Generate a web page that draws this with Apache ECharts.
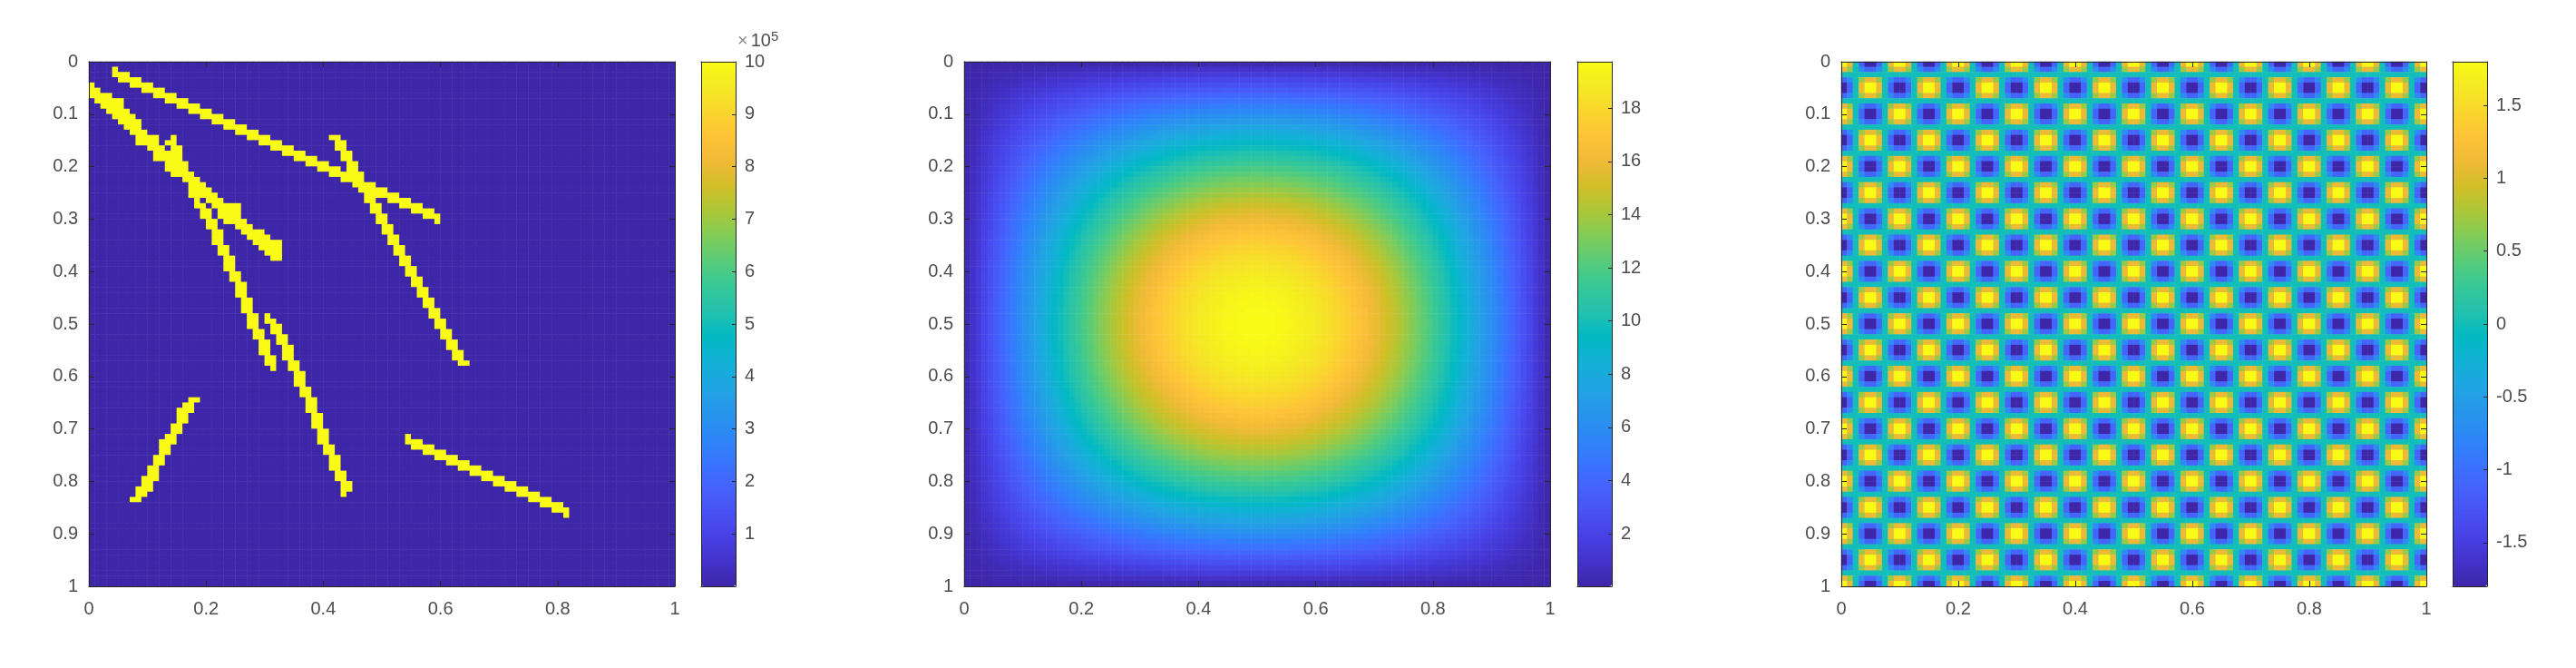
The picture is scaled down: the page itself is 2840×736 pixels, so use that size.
<!DOCTYPE html>
<html>
<head>
<meta charset="utf-8">
<title>three fields</title>
<script src="https://cdn.jsdelivr.net/npm/echarts@6/dist/echarts.min.js"></script>
<style>
    html, body { margin: 0; padding: 0; background: #fff; }
    #chart { width: 2840px; height: 736px; }
</style>
</head>
<body>
<div id="chart"></div>
<script>
// tick labels
const xTicks = { interval: 0.2 };
const yTicks = { interval: 0.1 };
const colorbarTicks1 = [1, 2, 3, 4, 5, 6, 7, 8, 9, 10];
const colorbarTicks2 = [2, 4, 6, 8, 10, 12, 14, 16, 18];
const colorbarTicks3 = [-1.5, -1, -0.5, 0, 0.5, 1, 1.5];

// colour ranges
const range1 = [0, 10];
const range2 = [0.02, 19.75];
const range3 = [-1.8, 1.8];

// parula
const parula = ['#3E26A8', '#4332CB', '#4741E5', '#4852F4', '#4563FD', '#3875FE', '#2D87F7', '#2796EB', '#20A5E3', '#12B1D6', '#02BAC3',
    '#24C1AE', '#37C897', '#57CC7A', '#80CC59', '#ABC739', '#D1BF27', '#F0BA36', '#FEC338', '#F9D62D', '#F5E924', '#F9FB15'];

// left panel: 100x100 cells, background is low, the strokes are high. each entry is [row, firstCol, lastCol]
const lowValue = 0;
const highValue = 10;
const strokeTop = [
    [1,4,4],[2,4,6],[3,5,8],[4,7,10],[5,9,12],[6,11,14],[7,13,16],[8,15,18],[9,17,20],[10,19,22],
    [11,21,24],[12,23,26],[13,25,28],[14,27,30],[15,29,32],[16,31,34],[17,33,36],[18,35,38],[19,37,40],[20,39,42],
    [21,41,44],[22,43,46],[23,45,48],[24,47,50],[25,49,52],[26,51,54],[27,53,56],[28,55,58],[29,57,59],[30,59,59]
];
const strokeLeft = [
    [4,0,0],[5,0,1],[6,0,3],[7,1,5],[8,2,5],[9,3,6],[10,4,7],[11,5,8],[12,6,8],[13,7,9],
    [14,8,11],[15,8,11],[16,10,12],[17,11,13],[18,11,13],[19,13,14],[20,13,15],[21,14,17],[22,16,18],[23,17,19],
    [24,17,20],[25,17,21],[26,20,22],[27,21,25],[28,22,25],[29,22,25],[30,23,26],[31,25,27],[32,26,29],[33,27,30],
    [34,28,32],[35,29,32],[36,30,32],[37,31,32]
];
const strokeSteepA = [
    [14,14,14],[15,13,14],[16,14,15],[17,14,15],[18,14,15],[19,14,16],[20,15,16],[21,16,17],[22,16,17],[23,17,18],
    [24,17,18],[25,17,18],[26,18,18],[27,18,19],[28,19,20],[29,19,20],[30,20,21],[31,20,21],[32,21,22],[33,21,22],
    [34,21,22],[35,22,23],[36,22,23],[37,23,24],[38,23,24],[39,23,24],[40,24,25],[41,24,25],[42,25,26],[43,25,26],
    [44,25,26],[45,26,27],[46,26,27],[47,26,27],[48,27,28],[49,27,28],[50,27,28],[51,28,29],[52,28,29],[53,29,30],
    [54,29,30],[55,29,30],[56,30,31],[57,30,31],[58,31,31]
];
const strokeSteepB = [
    [48,30,30],[49,30,31],[50,31,32],[51,31,32],[52,32,33],[53,32,33],[54,33,34],[55,33,34],[56,33,34],[57,34,35],
    [58,34,35],[59,35,36],[60,35,36],[61,35,36],[62,36,37],[63,36,37],[64,37,38],[65,37,38],[66,37,38],[67,38,39],
    [68,38,39],[69,38,39],[70,39,40],[71,39,40],[72,39,40],[73,40,41],[74,40,41],[75,41,42],[76,41,42],[77,41,42],
    [78,42,43],[79,42,43],[80,43,44],[81,43,44],[82,43,43]
];
const strokeCross = [
    [14,41,42],[15,42,43],[16,42,43],[17,43,44],[18,43,44],[19,44,45],[20,44,45],[21,44,46],[22,45,46],[23,46,48],
    [24,46,48],[25,47,48],[26,47,48],[27,48,49],[28,48,49],[29,49,50],[30,49,50],[31,50,51],[32,50,51],[33,51,52],
    [34,51,52],[35,52,53],[36,52,53],[37,53,54],[38,53,54],[39,54,55],[40,54,55],[41,55,56],[42,55,56],[43,56,57],
    [44,56,57],[45,57,58],[46,57,58],[47,58,59],[48,58,59],[49,59,60],[50,59,60],[51,60,61],[52,60,61],[53,61,62],
    [54,61,62],[55,62,63],[56,62,63],[57,63,64]
];
const strokeRising = [
    [64,17,18],[65,16,17],[66,15,17],[67,15,16],[68,15,16],[69,14,15],[70,14,15],[71,13,14],[72,12,14],[73,12,13],
    [74,12,13],[75,11,12],[76,11,12],[77,10,11],[78,10,11],[79,9,11],[80,9,10],[81,8,10],[82,8,9],[83,7,8]
];
const strokeBottom = [
    [71,54,54],[72,54,56],[73,55,58],[74,57,60],[75,59,62],[76,61,64],[77,63,66],[78,65,68],[79,67,70],[80,69,72],
    [81,71,74],[82,73,76],[83,75,78],[84,77,80],[85,79,81],[86,81,81]
];

// middle panel: 100x100 cells. the picture is symmetric about the centre and the diagonal,
// so only the upper triangle of the top-left quarter is kept (row r holds columns r..49)
const bumpTriangle = [
    [0,0,0,0,0,.1,.1,.1,.1,.1,.1,.1,.1,.1,.1,.1,.2,.2,.2,.2,.2,.2,.2,.2,.2,.2,.2,.2,.2,.2,.3,.3,.3,.3,.3,.3,.3,.3,.3,.3,.3,.3,.3,.3,.3,.3,.3,.3,.3,.3],
    [0,.1,.1,.1,.2,.2,.2,.2,.3,.3,.3,.4,.4,.4,.4,.5,.5,.5,.5,.6,.6,.6,.6,.6,.7,.7,.7,.7,.7,.8,.8,.8,.8,.8,.8,.8,.9,.9,.9,.9,.9,.9,.9,.9,.9,.9,.9,.9,.9],
    [.1,.2,.2,.3,.3,.4,.4,.5,.5,.5,.6,.6,.7,.7,.8,.8,.9,.9,.9,1,1,1,1.1,1.1,1.1,1.2,1.2,1.2,1.3,1.3,1.3,1.3,1.4,1.4,1.4,1.4,1.4,1.5,1.5,1.5,1.5,1.5,1.5,1.5,1.5,1.5,1.5,1.5],
    [.2,.3,.4,.4,.5,.6,.6,.7,.8,.8,.9,1,1,1.1,1.1,1.2,1.2,1.3,1.4,1.4,1.5,1.5,1.6,1.6,1.6,1.7,1.7,1.8,1.8,1.8,1.9,1.9,2,2,2,2,2,2.1,2.1,2.1,2.1,2.1,2.1,2.2,2.2,2.2,2.2],
    [.4,.5,.6,.6,.7,.8,.9,1,1.1,1.1,1.2,1.3,1.4,1.5,1.5,1.6,1.7,1.7,1.8,1.9,1.9,2,2.1,2.1,2.2,2.2,2.3,2.3,2.4,2.4,2.5,2.5,2.5,2.6,2.6,2.6,2.7,2.7,2.7,2.7,2.7,2.8,2.8,2.8,2.8,2.8],
    [.6,.7,.8,.9,1,1.1,1.2,1.3,1.4,1.5,1.6,1.7,1.8,1.9,2,2,2.1,2.2,2.3,2.4,2.4,2.5,2.6,2.7,2.7,2.8,2.8,2.9,3,3,3.1,3.1,3.1,3.2,3.2,3.2,3.3,3.3,3.3,3.4,3.4,3.4,3.4,3.4,3.4],
    [.8,.9,1.1,1.2,1.3,1.4,1.5,1.7,1.8,1.9,2,2.1,2.2,2.3,2.4,2.5,2.6,2.7,2.8,2.9,3,3.1,3.1,3.2,3.3,3.4,3.4,3.5,3.5,3.6,3.7,3.7,3.8,3.8,3.8,3.9,3.9,3.9,4,4,4,4,4,4],
    [1.1,1.2,1.4,1.5,1.6,1.8,1.9,2,2.2,2.3,2.4,2.5,2.6,2.8,2.9,3,3.1,3.2,3.3,3.4,3.5,3.6,3.7,3.8,3.9,3.9,4,4.1,4.1,4.2,4.3,4.3,4.4,4.4,4.4,4.5,4.5,4.5,4.6,4.6,4.6,4.6,4.6],
    [1.4,1.5,1.7,1.8,2,2.1,2.3,2.4,2.6,2.7,2.9,3,3.1,3.3,3.4,3.5,3.6,3.7,3.9,4,4.1,4.2,4.3,4.4,4.4,4.5,4.6,4.7,4.8,4.8,4.9,4.9,5,5,5.1,5.1,5.1,5.2,5.2,5.2,5.2,5.2],
    [1.7,1.9,2.1,2.2,2.4,2.6,2.7,2.9,3,3.2,3.3,3.5,3.6,3.8,3.9,4,4.2,4.3,4.4,4.5,4.6,4.8,4.9,5,5,5.1,5.2,5.3,5.4,5.4,5.5,5.6,5.6,5.6,5.7,5.7,5.8,5.8,5.8,5.8,5.8],
    [2.1,2.3,2.5,2.6,2.8,3,3.2,3.4,3.5,3.7,3.8,4,4.2,4.3,4.5,4.6,4.7,4.9,5,5.1,5.2,5.4,5.5,5.6,5.7,5.8,5.8,5.9,6,6.1,6.1,6.2,6.2,6.3,6.3,6.3,6.4,6.4,6.4,6.4],
    [2.5,2.7,2.9,3.1,3.3,3.5,3.7,3.8,4,4.2,4.4,4.5,4.7,4.9,5,5.2,5.3,5.4,5.6,5.7,5.8,6,6.1,6.2,6.3,6.4,6.5,6.5,6.6,6.7,6.7,6.8,6.8,6.9,6.9,6.9,7,7,7],
    [2.9,3.1,3.3,3.5,3.8,4,4.2,4.3,4.5,4.7,4.9,5.1,5.3,5.4,5.6,5.8,5.9,6,6.2,6.3,6.4,6.6,6.7,6.8,6.9,7,7.1,7.1,7.2,7.3,7.4,7.4,7.4,7.5,7.5,7.5,7.6,7.6],
    [3.4,3.6,3.8,4,4.2,4.5,4.7,4.9,5.1,5.3,5.5,5.7,5.8,6,6.2,6.3,6.5,6.7,6.8,6.9,7.1,7.2,7.3,7.4,7.5,7.6,7.7,7.8,7.8,7.9,8,8,8,8.1,8.1,8.1,8.1],
    [3.8,4.1,4.3,4.5,4.8,5,5.2,5.4,5.6,5.9,6.1,6.2,6.4,6.6,6.8,7,7.1,7.3,7.4,7.6,7.7,7.8,7.9,8,8.1,8.2,8.3,8.4,8.5,8.5,8.6,8.6,8.6,8.7,8.7,8.7],
    [4.3,4.6,4.8,5.1,5.3,5.5,5.8,6,6.2,6.4,6.6,6.8,7,7.2,7.4,7.6,7.7,7.9,8,8.2,8.3,8.4,8.5,8.6,8.7,8.8,8.9,9,9,9.1,9.1,9.2,9.2,9.2,9.2],
    [4.9,5.1,5.4,5.6,5.9,6.1,6.4,6.6,6.8,7,7.2,7.4,7.6,7.8,8,8.2,8.4,8.5,8.7,8.8,8.9,9,9.2,9.3,9.4,9.5,9.5,9.6,9.6,9.7,9.7,9.8,9.8,9.8],
    [5.4,5.7,5.9,6.2,6.4,6.7,6.9,7.2,7.4,7.6,7.8,8.1,8.3,8.4,8.6,8.8,9,9.1,9.3,9.4,9.5,9.7,9.8,9.9,10,10,10.1,10.2,10.2,10.3,10.3,10.3,10.3],
    [5.9,6.2,6.5,6.8,7,7.3,7.5,7.8,8,8.2,8.5,8.7,8.9,9.1,9.2,9.4,9.6,9.7,9.9,10,10.1,10.3,10.4,10.5,10.5,10.6,10.7,10.7,10.8,10.8,10.8,10.8],
    [6.5,6.8,7.1,7.4,7.6,7.9,8.2,8.4,8.6,8.9,9.1,9.3,9.5,9.7,9.9,10,10.2,10.4,10.5,10.6,10.7,10.9,11,11,11.1,11.2,11.2,11.3,11.3,11.4,11.4],
    [7.1,7.4,7.7,8,8.3,8.5,8.8,9,9.3,9.5,9.7,9.9,10.1,10.3,10.5,10.7,10.8,11,11.1,11.2,11.3,11.4,11.5,11.6,11.7,11.7,11.8,11.8,11.8,11.9],
    [7.7,8,8.3,8.6,8.9,9.1,9.4,9.6,9.9,10.1,10.3,10.5,10.7,10.9,11.1,11.3,11.4,11.6,11.7,11.8,11.9,12,12.1,12.2,12.2,12.3,12.3,12.3,12.4],
    [8.3,8.6,8.9,9.2,9.5,9.8,10,10.3,10.5,10.7,10.9,11.1,11.3,11.5,11.7,11.9,12,12.1,12.3,12.4,12.5,12.6,12.6,12.7,12.8,12.8,12.8,12.8],
    [8.9,9.2,9.5,9.8,10.1,10.4,10.6,10.9,11.1,11.3,11.5,11.7,11.9,12.1,12.3,12.4,12.6,12.7,12.8,12.9,13,13.1,13.2,13.2,13.2,13.3,13.3],
    [9.6,9.9,10.2,10.4,10.7,11,11.2,11.5,11.7,11.9,12.1,12.3,12.5,12.7,12.9,13,13.1,13.3,13.4,13.5,13.5,13.6,13.7,13.7,13.7,13.7],
    [10.2,10.5,10.8,11.1,11.3,11.6,11.9,12.1,12.3,12.5,12.7,12.9,13.1,13.3,13.4,13.6,13.7,13.8,13.9,14,14,14.1,14.1,14.2,14.2],
    [10.8,11.1,11.4,11.7,12,12.2,12.5,12.7,12.9,13.1,13.3,13.5,13.7,13.8,14,14.1,14.2,14.3,14.4,14.5,14.5,14.6,14.6,14.6],
    [11.4,11.7,12,12.3,12.6,12.8,13.1,13.3,13.5,13.7,13.9,14,14.2,14.4,14.5,14.6,14.7,14.8,14.9,14.9,15,15,15],
    [12,12.3,12.6,12.9,13.1,13.4,13.6,13.8,14,14.2,14.4,14.6,14.7,14.9,15,15.1,15.2,15.3,15.3,15.4,15.4,15.4],
    [12.6,12.9,13.2,13.5,13.7,14,14.2,14.4,14.6,14.8,14.9,15.1,15.2,15.4,15.5,15.6,15.6,15.7,15.7,15.8,15.8],
    [13.2,13.5,13.8,14,14.3,14.5,14.7,14.9,15.1,15.3,15.4,15.6,15.7,15.8,15.9,16,16.1,16.1,16.1,16.2],
    [13.8,14.1,14.3,14.6,14.8,15,15.3,15.4,15.6,15.8,15.9,16,16.2,16.3,16.3,16.4,16.5,16.5,16.5],
    [14.4,14.6,14.9,15.1,15.3,15.6,15.7,15.9,16.1,16.3,16.4,16.5,16.6,16.7,16.7,16.8,16.8,16.8],
    [14.9,15.2,15.4,15.6,15.8,16,16.2,16.4,16.6,16.7,16.8,16.9,17,17,17.1,17.1,17.1],
    [15.4,15.7,15.9,16.1,16.3,16.5,16.7,16.8,17,17.1,17.2,17.3,17.4,17.4,17.4,17.5],
    [15.9,16.2,16.4,16.6,16.8,17,17.1,17.2,17.4,17.5,17.6,17.6,17.7,17.7,17.7],
    [16.4,16.6,16.8,17,17.2,17.4,17.5,17.6,17.7,17.8,17.9,17.9,18,18],
    [16.9,17.1,17.3,17.4,17.6,17.7,17.9,18,18.1,18.1,18.2,18.2,18.3],
    [17.3,17.5,17.7,17.8,18,18.1,18.2,18.3,18.4,18.4,18.5,18.5],
    [17.7,17.9,18,18.2,18.3,18.4,18.5,18.6,18.6,18.7,18.7],
    [18,18.2,18.4,18.5,18.6,18.7,18.8,18.8,18.9,18.9],
    [18.4,18.5,18.7,18.8,18.9,18.9,19,19,19.1],
    [18.7,18.8,18.9,19,19.1,19.1,19.2,19.2],
    [18.9,19.1,19.1,19.2,19.3,19.3,19.3],
    [19.2,19.3,19.3,19.4,19.4,19.5],
    [19.4,19.4,19.5,19.5,19.6],
    [19.5,19.6,19.6,19.6],
    [19.6,19.7,19.7],
    [19.7,19.7],
    [19.7]
];

// right panel: one period of the checker, 10x10 cells, it repeats over the whole square
const checkerTile = [
    [1.8,1.1,0,-1.1,-1.8,-1.8,-1.1,0,1.1,1.8],
    [1.1,0.7,0,-0.7,-1.1,-1.1,-0.7,0,0.7,1.1],
    [0,0,0,0,0,0,0,0,0,0],
    [-1.1,-0.7,0,0.7,1.1,1.1,0.7,0,-0.7,-1.1],
    [-1.8,-1.1,0,1.1,1.8,1.8,1.1,0,-1.1,-1.8],
    [-1.8,-1.1,0,1.1,1.8,1.8,1.1,0,-1.1,-1.8],
    [-1.1,-0.7,0,0.7,1.1,1.1,0.7,0,-0.7,-1.1],
    [0,0,0,0,0,0,0,0,0,0],
    [1.1,0.7,0,-0.7,-1.1,-1.1,-0.7,0,0.7,1.1],
    [1.8,1.1,0,-1.1,-1.8,-1.8,-1.1,0,1.1,1.8]
];

const textColor = '#4d4d4d';
const lineColor = '#262626';
const fontFamily = '"Liberation Sans", Arial, sans-serif';
const fontSize = 20;

// build the three data lists
function strokesData() {
    const rows = [];
    for (let r = 0; r < 100; r++) rows.push(new Array(100).fill(lowValue));
    [strokeTop, strokeLeft, strokeSteepA, strokeSteepB, strokeCross, strokeRising, strokeBottom].forEach(function (stroke) {
        stroke.forEach(function (run) {
            for (let c = run[1]; c <= run[2]; c++) rows[run[0]][c] = highValue;
        });
    });
    const out = [];
    rows.forEach(function (row, r) {
        row.forEach(function (v, c) { out.push([c, r, v]); });
    });
    return out;
}

function bumpData() {
    const out = [];
    for (let r = 0; r < 100; r++) {
        for (let c = 0; c < 100; c++) {
            const qr = r < 50 ? r : 99 - r;
            const qc = c < 50 ? c : 99 - c;
            const a = Math.min(qr, qc);
            const b = Math.max(qr, qc);
            const row = bumpTriangle[a];
            out.push([c, r, row[Math.min(b - a, row.length - 1)]]);
        }
    }
    return out;
}

function checkerData() {
    const out = [];
    for (let r = 0; r < 100; r++) {
        for (let c = 0; c < 100; c++) {
            out.push([c, r, checkerTile[r % 10][c % 10]]);
        }
    }
    return out;
}

const panels = [
    { left: 98, cbLeft: 773, width: 646, cells: 100, data: strokesData(), range: range1, ticks: colorbarTicks1 },
    { left: 1063, cbLeft: 1739, width: 646, cells: 100, data: bumpData(), range: range2, ticks: colorbarTicks2 },
    { left: 2030, cbLeft: 2704, width: 645, cells: 100, data: checkerData(), range: range3, ticks: colorbarTicks3 }
];
const plotTop = 68;
const plotHeight = 578;
const cbWidth = 38;

const option = { animation: false, backgroundColor: '#fff', grid: [], xAxis: [], yAxis: [], series: [], visualMap: [] };

function boxLine() {
    return { show: true, onZero: false, lineStyle: { color: lineColor, width: 1 } };
}

function labelStyle(extra) {
    return Object.assign({ color: textColor, fontFamily: fontFamily, fontSize: fontSize }, extra);
}

function tickStyle(show) {
    return { show: show, inside: true, length: 6, lineStyle: { color: lineColor, width: 1 } };
}

panels.forEach(function (p, i) {
    const cats = [];
    for (let k = 0; k < p.cells; k++) cats.push(k);

    // image panel
    const g = option.grid.length;
    option.grid.push({ left: p.left, top: plotTop, width: p.width, height: plotHeight });
    const catX = option.xAxis.length;
    const catY = option.yAxis.length;
    option.xAxis.push({ type: 'category', gridIndex: g, data: cats, show: false });
    option.yAxis.push({ type: 'category', gridIndex: g, data: cats, inverse: true, show: false });
    option.xAxis.push({
        type: 'value', gridIndex: g, position: 'bottom', min: 0, max: 1, interval: xTicks.interval, z: 5,
        axisLine: boxLine(), axisTick: tickStyle(true), splitLine: { show: false },
        axisLabel: labelStyle({ margin: 15 })
    });
    option.xAxis.push({
        type: 'value', gridIndex: g, position: 'top', min: 0, max: 1, interval: xTicks.interval, z: 5,
        axisLine: boxLine(), axisTick: tickStyle(true), splitLine: { show: false }, axisLabel: { show: false }
    });
    option.yAxis.push({
        type: 'value', gridIndex: g, position: 'left', min: 0, max: 1, interval: yTicks.interval, inverse: true, z: 5,
        axisLine: boxLine(), axisTick: tickStyle(true), splitLine: { show: false },
        axisLabel: labelStyle({ margin: 12, padding: [6, 0, 0, 0] })
    });
    option.yAxis.push({
        type: 'value', gridIndex: g, position: 'right', min: 0, max: 1, interval: yTicks.interval, inverse: true, z: 5,
        axisLine: boxLine(), axisTick: tickStyle(true), splitLine: { show: false }, axisLabel: { show: false }
    });

    option.series.push({
        type: 'heatmap',
        xAxisIndex: catX,
        yAxisIndex: catY,
        data: p.data,
        progressive: 0,
        silent: true,
        itemStyle: { borderWidth: 0 },
        emphasis: { disabled: true }
    });

    option.visualMap.push({
        type: 'continuous',
        seriesIndex: i,
        dimension: 2,
        min: p.range[0],
        max: p.range[1],
        left: p.cbLeft,
        top: plotTop,
        itemWidth: cbWidth,
        itemHeight: plotHeight,
        padding: 0,
        calculable: false,
        text: null,
        showLabel: false,
        inRange: { color: parula }
    });

    // colorbar frame and ticks on top of the visualMap bar
    const cg = option.grid.length;
    option.grid.push({ left: p.cbLeft, top: plotTop, width: cbWidth, height: plotHeight });
    option.xAxis.push({ type: 'value', gridIndex: cg, position: 'bottom', min: 0, max: 1, z: 10, axisLine: boxLine(), axisTick: { show: false }, axisLabel: { show: false }, splitLine: { show: false } });
    option.xAxis.push({ type: 'value', gridIndex: cg, position: 'top', min: 0, max: 1, z: 10, axisLine: boxLine(), axisTick: { show: false }, axisLabel: { show: false }, splitLine: { show: false } });
    option.yAxis.push({ type: 'value', gridIndex: cg, position: 'left', min: p.range[0], max: p.range[1], z: 10, axisLine: boxLine(), axisTick: { show: false }, axisLabel: { show: false }, splitLine: { show: false } });
    option.yAxis.push({
        type: 'value', gridIndex: cg, position: 'right', min: p.range[0], max: p.range[1], z: 10,
        axisLine: boxLine(), splitLine: { show: false },
        axisTick: Object.assign(tickStyle(true), { customValues: p.ticks, length: 4 }),
        axisLabel: labelStyle({ margin: 10, customValues: p.ticks })
    });
});

// the x10^5 above the first colorbar
option.graphic = [{
    type: 'text',
    left: 813,
    top: 33,
    z: 20,
    style: {
        text: '{x|×}{b|10}{s|5}',
        rich: {
            x: { fontFamily: fontFamily, fontSize: 20, fill: '#8c8c8c', padding: [0, 3, 0, 0] },
            b: { fontFamily: fontFamily, fontSize: 20, fill: textColor },
            s: { fontFamily: fontFamily, fontSize: 15, fill: textColor, verticalAlign: 'top', padding: [0, 0, 10, 0] }
        }
    }
}];

const chart = echarts.init(document.getElementById('chart'));
chart.setOption(option);
</script>
</body>
</html>
